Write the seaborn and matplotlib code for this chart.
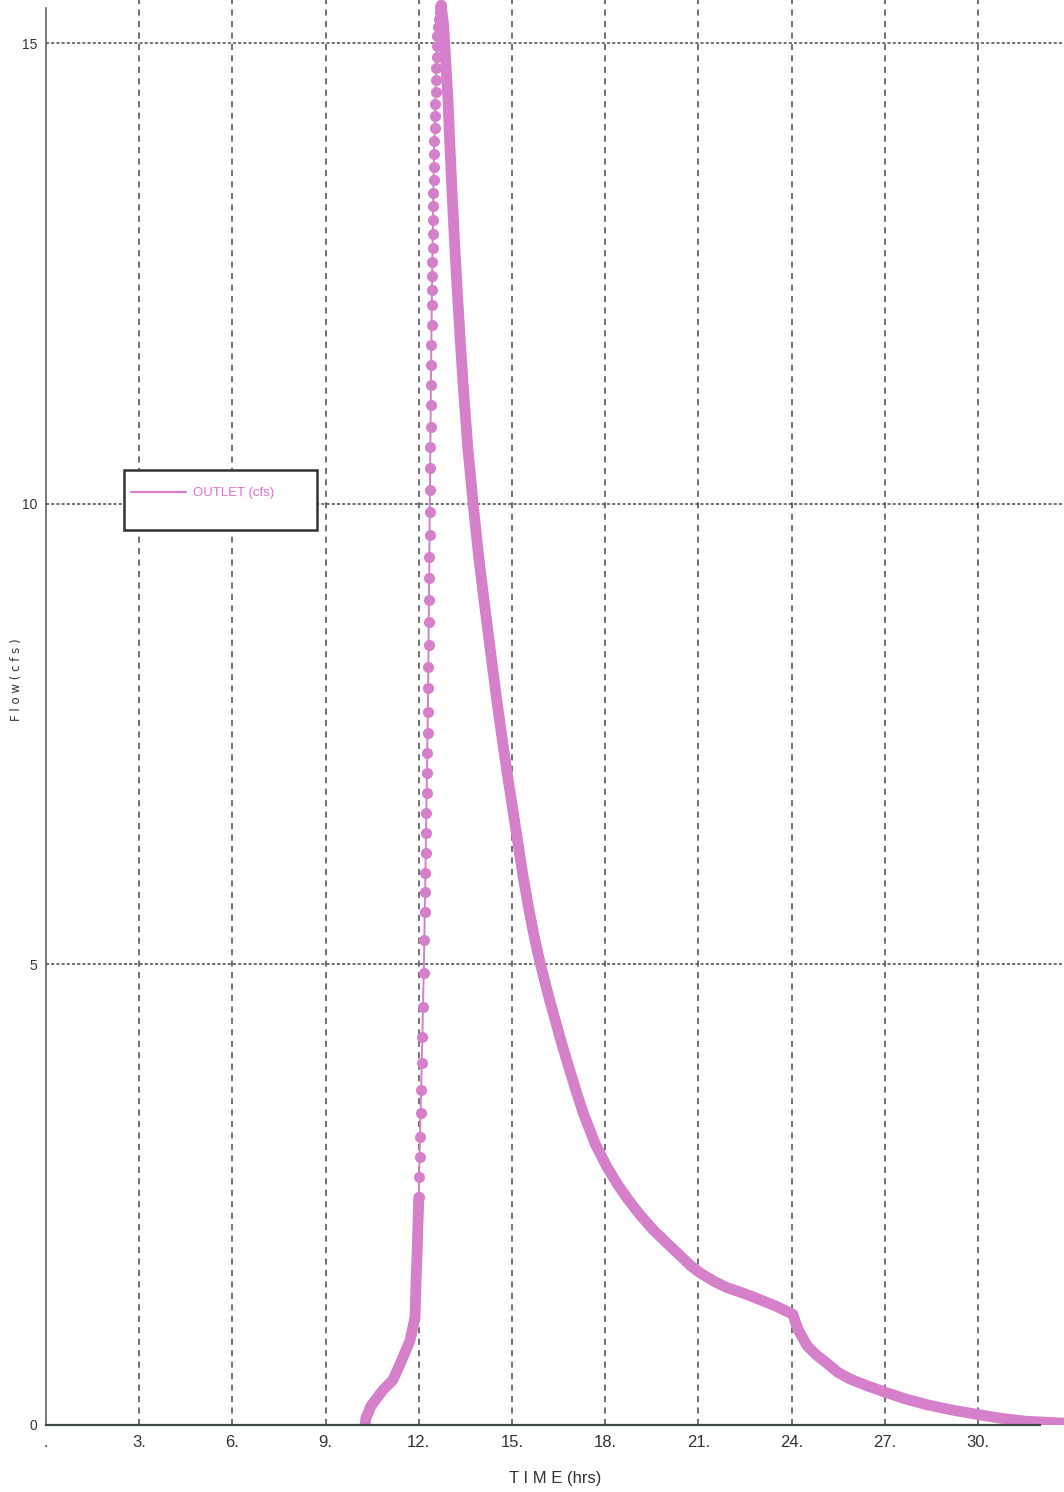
import matplotlib
matplotlib.use('Agg')
import matplotlib.pyplot as plt
from matplotlib.lines import Line2D
from matplotlib.patches import Rectangle
import seaborn as sns
import pandas as pd

#******************************************************************************
# start of the rise, drawn as a solid band
base_time = [10.27, 10.30, 10.37, 10.45, 10.60, 10.85, 11.17, 11.46, 11.72,
             11.88, 11.91, 11.95, 12.00]
base_flow = [0.00, 0.08, 0.13, 0.20, 0.27, 0.38, 0.49, 0.71, 0.92,
             1.17, 1.54, 1.90, 2.47]

# steep part of the rise, where every computed point shows as a bead
rise_time = [12.000, 12.011, 12.024, 12.040, 12.057, 12.076, 12.095, 12.115,
             12.134, 12.160, 12.179, 12.192, 12.205, 12.214, 12.224, 12.234,
             12.243, 12.253, 12.263, 12.272, 12.282, 12.292, 12.301, 12.308,
             12.314, 12.321, 12.327, 12.333, 12.340, 12.346, 12.353, 12.359,
             12.366, 12.372, 12.378, 12.385, 12.391, 12.398, 12.404, 12.411,
             12.417, 12.423, 12.430, 12.436, 12.443, 12.449, 12.456, 12.462,
             12.468, 12.475, 12.481, 12.491, 12.501, 12.510, 12.520, 12.530,
             12.539, 12.549, 12.559, 12.572, 12.584, 12.601, 12.620, 12.642,
             12.668, 12.697, 12.720]
rise_flow = [2.47, 2.69, 2.91, 3.13, 3.39, 3.64, 3.93, 4.21,
             4.54, 4.91, 5.26, 5.57, 5.79, 5.99, 6.21, 6.43,
             6.64, 6.86, 7.08, 7.29, 7.51, 7.74, 8.00, 8.23,
             8.47, 8.72, 8.95, 9.19, 9.42, 9.66, 9.91, 10.15,
             10.39, 10.62, 10.83, 11.07, 11.29, 11.51, 11.72, 11.94,
             12.16, 12.32, 12.47, 12.62, 12.78, 12.93, 13.08, 13.23,
             13.37, 13.51, 13.65, 13.80, 13.94, 14.08, 14.21, 14.34,
             14.47, 14.60, 14.73, 14.85, 14.97, 15.08, 15.17, 15.26,
             15.34, 15.39, 15.41]

# recession limb
fall_time = [12.72, 12.80, 12.86, 12.94, 13.00, 13.07, 13.15, 13.23, 13.33,
             13.43, 13.58, 13.75, 13.92, 14.10, 14.30, 14.49, 14.72, 14.88,
             15.04, 15.20, 15.36, 15.52, 15.68, 15.82, 15.97, 16.15, 16.33,
             16.55, 16.77, 17.05, 17.29, 17.68, 18.06, 18.40, 18.71, 19.10,
             19.54, 20.00, 20.41, 20.75, 21.06, 21.50, 21.93, 22.45, 22.99,
             23.50, 24.05, 24.12, 24.22, 24.50, 24.80, 25.14, 25.50, 25.88,
             26.40, 27.07, 27.70, 28.36, 29.20, 30.07, 30.80, 31.58, 32.77]
fall_flow = [15.41, 15.20, 14.85, 14.38, 13.90, 13.38, 12.85, 12.36, 11.80,
             11.28, 10.60, 10.00, 9.45, 8.95, 8.42, 7.92, 7.36, 7.00,
             6.65, 6.30, 5.95, 5.64, 5.36, 5.14, 4.93, 4.69, 4.47,
             4.20, 3.95, 3.64, 3.39, 3.05, 2.80, 2.61, 2.46, 2.29,
             2.12, 1.97, 1.84, 1.73, 1.65, 1.56, 1.49, 1.43, 1.36,
             1.29, 1.20, 1.12, 1.03, 0.86, 0.76, 0.67, 0.57, 0.50,
             0.43, 0.35, 0.28, 0.22, 0.16, 0.11, 0.07, 0.04, 0.02]

x_ticks = [0, 3, 6, 9, 12, 15, 18, 21, 24, 27, 30]
x_tick_labels = ['.', '3.', '6.', '9.', '12.', '15.', '18.', '21.', '24.', '27.', '30.']
y_ticks = [0, 5, 10, 15]
y_tick_labels = ['0', '5', '10', '15']

series_name = 'OUTLET (cfs)'

# STYLE
#******************************************************************************
sns.set_style('white')
plt.rcParams['font.family'] = ['Liberation Sans', 'DejaVu Sans']

line_color = '#d67fca'
text_pink = '#e070d0'
grid_color = '#4a4a4a'

W, H = 1064, 1492
fig = plt.figure(figsize=(W / 100, H / 100), dpi=100)
fig.patch.set_facecolor('white')

#axes placed in pixel terms of the reference
ax_left, ax_bottom = 46, 1425
ax = fig.add_axes([ax_left / W, (H - ax_bottom) / H, 1 - ax_left / W, ax_bottom / H])

# PLOT
#******************************************************************************
base_df = pd.DataFrame({'time': base_time, 'flow': base_flow})
rise_df = pd.DataFrame({'time': rise_time, 'flow': rise_flow})
fall_df = pd.DataFrame({'time': fall_time, 'flow': fall_flow})

band_kw = dict(color=line_color, linewidth=7.8, solid_capstyle='round',
               solid_joinstyle='round', estimator=None, sort=False, ax=ax, legend=False)

sns.lineplot(data=base_df, x='time', y='flow', **band_kw)
sns.lineplot(data=fall_df, x='time', y='flow', **band_kw)
sns.lineplot(data=rise_df, x='time', y='flow', color=line_color, linewidth=1.4,
             marker='o', markersize=8, markeredgewidth=0, estimator=None,
             sort=False, ax=ax, legend=False)

#gridlines
for xv in x_ticks[1:]:
    ax.axvline(xv, color=grid_color, linewidth=1.1, dashes=(4, 3.5), zorder=0)
for yv in y_ticks[1:]:
    ax.axhline(yv, color=grid_color, linewidth=1.1, dashes=(2, 1.4), zorder=0)

ax.set_xlim(0, 32.77)
ax.set_ylim(0, ax_bottom / 92.13)

ax.set_xticks(x_ticks)
ax.set_xticklabels(x_tick_labels, fontsize=12, color='#333333')
ax.set_yticks(y_ticks)
ax.set_yticklabels(y_tick_labels, fontsize=10, color='#333333')
ax.tick_params(axis='x', direction='inout', length=7, width=1.2, color='#444444', pad=4)
ax.tick_params(axis='y', direction='out', length=4, width=1.0, color='#444444', pad=2)

for side in ['top', 'right']:
    ax.spines[side].set_visible(False)
ax.spines['bottom'].set_color('#3f4a44')
ax.spines['bottom'].set_linewidth(1.6)
ax.spines['bottom'].set_bounds(0, 32.0)
ax.spines['left'].set_color('#555555')
ax.spines['left'].set_linewidth(1.1)
ax.spines['left'].set_bounds(0, 15.38)

ax.set_xlabel('')
ax.set_ylabel('')
fig.text(555 / W, 1 - 1478 / H, 'T I M E (hrs)', ha='center', va='center',
         fontsize=12, color='#333333')
fig.text(17 / W, 1 - 680 / H, 'F l o w ( c f s )', ha='center', va='center',
         rotation=90, fontsize=8.5, color='#333333', family='DejaVu Sans')

#legend box, kept on the axes so it sits above the gridlines
box = Rectangle((124 / W, 1 - 530 / H), 193 / W, 60 / H, transform=fig.transFigure,
                facecolor='white', edgecolor='#333333', linewidth=1.8, zorder=5)
ax.add_patch(box)
handle = Line2D([], [], color=line_color, linewidth=1.6)
leg = ax.legend([handle], [series_name], loc='center left', frameon=False,
                bbox_to_anchor=((124 - ax_left) / (W - ax_left), 1 - 493 / ax_bottom),
                handlelength=4.2, handletextpad=0.5, borderpad=0, borderaxespad=0.5,
                prop={'size': 9.5})
leg.get_texts()[0].set_color(text_pink)
leg.set_zorder(6)

fig.savefig('out.png', dpi=100, facecolor='white')
